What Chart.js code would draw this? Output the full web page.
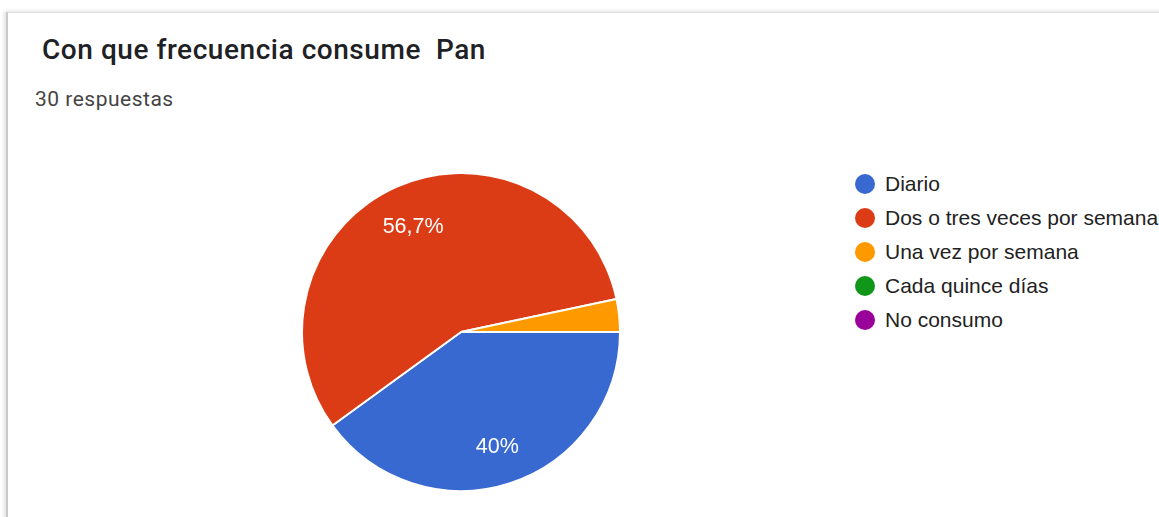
<!DOCTYPE html>
<html lang="es">
<head>
    <meta charset="UTF-8">
    <title>Con que frecuencia consume Pan</title>
    <script src="https://cdn.jsdelivr.net/npm/chart.js"></script>
    <style>
        body{
            margin: 0;
            background: #ffffff;
            width: 1159px;
            height: 517px;
            overflow: hidden;
        }
        .card{
            position: absolute;
            left: 6px;
            top: 12px;
            width: 1200px;
            height: 560px;
            background: #ffffff;
            border-left: 2px solid #c9c9c9;
            border-top: 1px solid #dcdcdc;
            box-shadow: -2px -1px 4px rgba(0,0,0,0.12);
        }
        .titulo{
            position: absolute;
            left: 34px;
            top: 20px;
            font-family: Roboto, sans-serif;
            font-weight: 500;
            font-size: 28px;
            letter-spacing: 0.55px;
            color: #202124;
            white-space: pre;
        }
        .respuestas{
            position: absolute;
            left: 27px;
            top: 74px;
            font-family: Roboto, sans-serif;
            font-size: 21px;
            letter-spacing: 0.5px;
            color: #444444;
        }
        #box-pie{
            position: absolute;
            left: 293px;
            top: 159px;
            width: 320px;
            height: 320px;
        }
        #leyenda{
            position: absolute;
            left: 847px;
            top: 154px;
            margin: 0;
            padding: 0;
            list-style: none;
            font-family: "Liberation Sans", Arial, sans-serif;
            font-size: 21px;
            color: #222222;
            white-space: nowrap;
        }
        #leyenda li{
            height: 34px;
            line-height: 34px;
            display: flex;
            align-items: center;
        }
        #leyenda span.punto{
            display: inline-block;
            width: 20px;
            height: 20px;
            border-radius: 50%;
            margin-right: 10px;
        }
    </style>
</head>
<body>
    <div class="card">
        <div class="titulo">Con que frecuencia consume  Pan</div>
        <div class="respuestas">30 respuestas</div>
        <div id="box-pie">
            <canvas id="grafik-pie"></canvas>
        </div>
        <ul id="leyenda"></ul>
    </div>

    <script>
        const opciones = ["Diario", "Dos o tres veces por semana", "Una vez por semana", "Cada quince días", "No consumo"]
        const jumlah = [12, 17, 1, 0, 0]
        const warna = ["#3869d0", "#dc3c15", "#ff9900", "#109618", "#990099"]

        // persen dengan koma, "56,7%" / "40%"
        function formatPersen(v, total){
            var p = Math.round(v / total * 1000) / 10
            return String(p).replace(".", ",") + "%"
        }

        const labelPersen = {
            id: 'labelPersen',
            afterDatasetsDraw(chart){
                var ctx = chart.ctx
                var data = chart.data.datasets[0].data
                var total = data.reduce((a, b) => a + b, 0)
                var meta = chart.getDatasetMeta(0)
                ctx.save()
                ctx.fillStyle = "#ffffff"
                ctx.font = '21.5px "Liberation Sans", Arial, sans-serif'
                ctx.textAlign = "center"
                ctx.textBaseline = "middle"
                meta.data.forEach((arc, i) => {
                    if (data[i] / total < 0.05) return
                    var p = arc.getProps(['x', 'y', 'startAngle', 'endAngle', 'outerRadius'], true)
                    var mid = (p.startAngle + p.endAngle) / 2
                    var r = p.outerRadius * 0.74
                    ctx.fillText(formatPersen(data[i], total), p.x + Math.cos(mid) * r, p.y + Math.sin(mid) * r + 3)
                })
                ctx.restore()
            }
        }

        const chartPie = new Chart(document.getElementById('grafik-pie'), {
            type: 'pie',
            data: {
                labels: opciones,
                datasets: [{
                    data: jumlah,
                    backgroundColor: warna,
                    borderColor: "#ffffff",
                    borderWidth: 2,
                    hoverOffset: 0
                }]
            },
            options: {
                responsive: true,
                maintainAspectRatio: false,
                animation: false,
                events: [],
                rotation: 90,
                layout: { padding: 0 },
                plugins: {
                    legend: { display: false },
                    tooltip: { enabled: false }
                }
            },
            plugins: [labelPersen]
        })

        // legenda html dari label chart
        var mHtml = ""
        opciones.forEach((nama, i) => {
            mHtml += "<li><span class='punto' style='background:" + warna[i] + "'></span>" + nama + "</li>"
        })
        document.getElementById('leyenda').innerHTML = mHtml
    </script>
</body>
</html>
